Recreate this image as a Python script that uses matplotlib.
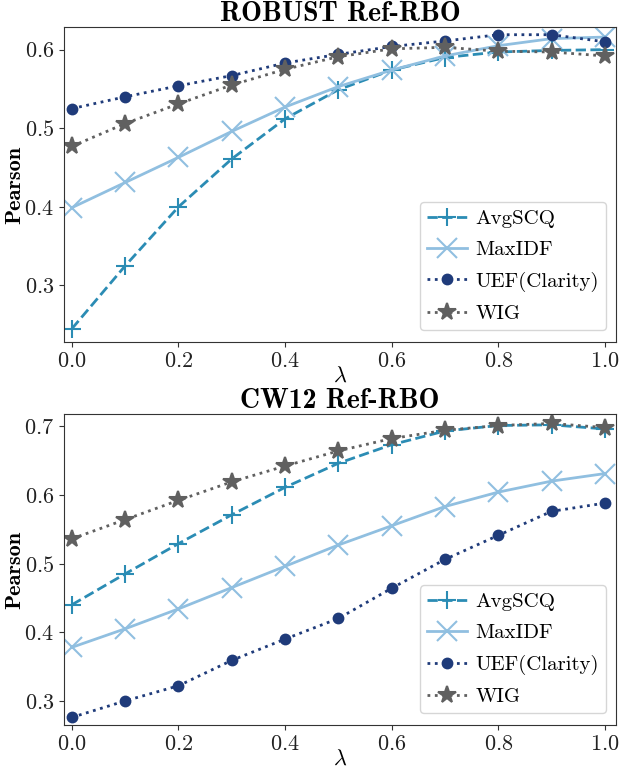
import matplotlib
matplotlib.use("Agg")
from matplotlib import pyplot as plt

plt.rcParams['font.family'] = 'serif'
plt.rcParams['font.serif'] = ['cmr10']
plt.rcParams['mathtext.fontset'] = 'cm'
plt.rcParams['axes.formatter.use_mathtext'] = True
plt.rcParams['axes.unicode_minus'] = False

lam = [0.0, 0.1, 0.2, 0.3, 0.4, 0.5, 0.6, 0.7, 0.8, 0.9, 1.0]

# ROBUST Ref-RBO
robust_avgscq = [0.245, 0.325, 0.400, 0.461, 0.512, 0.549, 0.574, 0.590, 0.597, 0.599, 0.600]
robust_maxidf = [0.399, 0.431, 0.463, 0.496, 0.527, 0.553, 0.574, 0.592, 0.605, 0.614, 0.616]
robust_uef = [0.525, 0.540, 0.554, 0.567, 0.583, 0.594, 0.604, 0.611, 0.619, 0.619, 0.610]
robust_wig = [0.477, 0.506, 0.531, 0.555, 0.575, 0.591, 0.601, 0.603, 0.598, 0.597, 0.592]

# CW12 Ref-RBO
cw12_avgscq = [0.440, 0.485, 0.529, 0.571, 0.611, 0.646, 0.673, 0.693, 0.701, 0.702, 0.696]
cw12_maxidf = [0.378, 0.405, 0.434, 0.465, 0.496, 0.527, 0.555, 0.583, 0.604, 0.620, 0.631]
cw12_uef = [0.276, 0.300, 0.322, 0.359, 0.390, 0.420, 0.464, 0.506, 0.541, 0.576, 0.588]
cw12_wig = [0.536, 0.564, 0.592, 0.619, 0.642, 0.664, 0.682, 0.694, 0.701, 0.704, 0.698]

names = ['AvgSCQ', 'MaxIDF', 'UEF(Clarity)', 'WIG']
colors = ['#2b8cb4', '#90bfe0', '#1f3b7a', '#606060']
styles = ['--', '-', ':', ':']
markers = ['+', 'x', 'o', '*']
msizes = [13, 14, 7, 13]

panels = [
    ('ROBUST Ref-RBO', [robust_avgscq, robust_maxidf, robust_uef, robust_wig],
     [0.3, 0.4, 0.5, 0.6], (0.228, 0.629), [0.100, 0.554, 0.864, 0.411]),
    ('CW12 Ref-RBO', [cw12_avgscq, cw12_maxidf, cw12_uef, cw12_wig],
     [0.3, 0.4, 0.5, 0.6, 0.7], (0.2646, 0.7175), [0.100, 0.0545, 0.864, 0.4055]),
]

fig = plt.figure(figsize=(6.39, 7.67), dpi=100)

for title, series, yticks, ylim, pos in panels:
    ax = fig.add_axes(pos)
    for vals, name, c, ls, m, ms in zip(series, names, colors, styles, markers, msizes):
        ax.plot(lam, vals, linestyle=ls, marker=m, color=c, label=name,
                linewidth=2, markersize=ms, markeredgewidth=1.5)
    ax.set_xlim(-0.015, 1.021)
    ax.set_ylim(*ylim)
    ax.set_yticks(yticks)
    ax.set_xticks([0.0, 0.2, 0.4, 0.6, 0.8, 1.0])
    ax.tick_params(labelsize=16, colors='#333333', labelcolor='#222222')
    for s in ax.spines.values():
        s.set_color('#333333')
    ax.set_title(title, fontsize=20, fontfamily='cmb10', pad=2)
    ax.set_ylabel('Pearson', fontsize=16, fontfamily='cmb10', labelpad=0)
    ax.set_xlabel(r'$\lambda$', fontsize=16, labelpad=-4)
    ax.legend(loc='lower right', fontsize=15, handlelength=1.9,
              handletextpad=0.4, borderpad=0.35, labelspacing=0.6,
              borderaxespad=0, bbox_to_anchor=(0.982, 0.038))

fig.savefig('out.png', dpi=100)
